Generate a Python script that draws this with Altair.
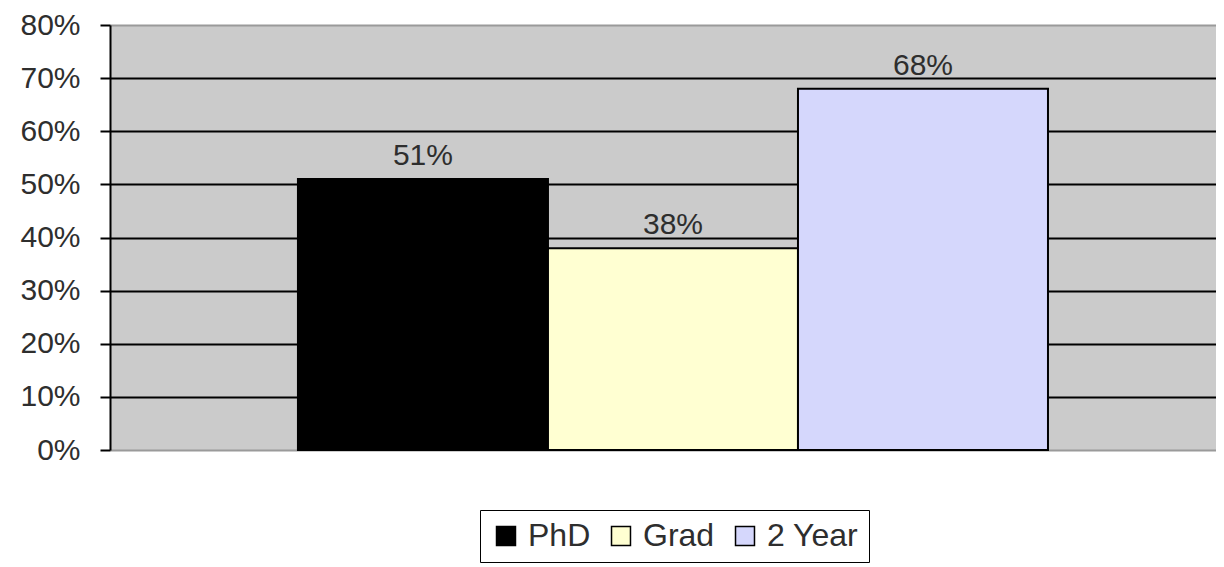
import altair as alt
import pandas as pd

series = ["PhD", "Grad", "2 Year"]
values = [0.51, 0.38, 0.68]
labels = ["51%", "38%", "68%"]
colors = ["#000000", "#FFFFD2", "#D5D7FC"]
y_ticks = [0, 0.1, 0.2, 0.3, 0.4, 0.5, 0.6, 0.7, 0.8]

df = pd.DataFrame({
    "group": [""] * len(series),
    "series": series,
    "value": values,
    "label": labels,
})

FONT = "Liberation Sans"
TXT = "#2e2e2e"

x_enc = alt.X("group:N", axis=None,
              scale=alt.Scale(paddingInner=0, paddingOuter=0.2373, align=0.528))
xo_enc = alt.XOffset("series:N", sort=series,
                     scale=alt.Scale(paddingInner=0, paddingOuter=0))
y_enc = alt.Y("value:Q",
              scale=alt.Scale(domain=[0, 0.8], nice=False, zero=True),
              axis=alt.Axis(
                  title=None, format=".0%", values=y_ticks,
                  grid=True,
                  gridColor=alt.condition("datum.value == 0 || datum.value == 0.8",
                                          alt.value("#9a9a9a"), alt.value("#000000")),
                  gridWidth=2,
                  domain=True, domainColor="#000000", domainWidth=2,
                  ticks=True, tickColor="#000000", tickSize=10, tickWidth=2,
                  labelFont=FONT, labelFontSize=30, labelColor=TXT,
                  labelPadding=20,
              ))

bars = alt.Chart(df).mark_bar(stroke="#000000", strokeWidth=2).encode(
    x=x_enc,
    xOffset=xo_enc,
    y=y_enc,
    color=alt.Color("series:N", sort=series,
                    scale=alt.Scale(domain=series, range=colors),
                    legend=alt.Legend(
                        title=None, orient="none", legendX=370, legendY=485,
                        direction="horizontal", columns=3,
                        symbolType="square", symbolSize=360,
                        symbolStrokeColor="#000000", symbolStrokeWidth=1.5,
                        labelFont=FONT, labelFontSize=32, labelColor=TXT,
                        labelOffset=6, columnPadding=14,
                        strokeColor="#000000", fillColor="#ffffff",
                        padding=10,
                    )),
)

text = alt.Chart(df).mark_text(font=FONT, fontSize=30, color=TXT,
                               baseline="middle", dy=-23).encode(
    x=x_enc,
    xOffset=xo_enc,
    y=alt.Y("value:Q"),
    text="label:N",
)

chart = alt.layer(bars, text).properties(
    width=1106, height=425,
    autosize=alt.AutoSizeParams(type="none"),
    padding={"left": 102, "top": 17, "right": 0, "bottom": 117},
    background="#ffffff",
).configure_view(
    fill="#CBCBCB", stroke=None,
)

chart.save("out.html", embed_options={"renderer": "svg", "actions": False})
